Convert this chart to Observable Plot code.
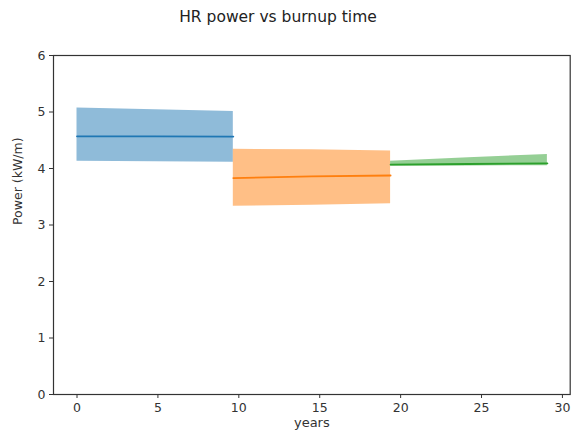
<!DOCTYPE html>
<html>
<head>
<meta charset="utf-8">
<script src="https://cdn.jsdelivr.net/npm/d3@7"></script>
<script src="https://cdn.jsdelivr.net/npm/@observablehq/plot@0.6"></script>
<style>
  body { margin: 0; background: #fff; font-family: "DejaVu Sans", sans-serif; }
  #wrap { position: relative; width: 571px; height: 433px; }
  #title { position: absolute; top: 8px; left: 0; width: 556px; text-align: center; font-size: 15.5px; color: #222; }
</style>
</head>
<body>
<div id="wrap">
  <div id="title">HR power vs burnup time</div>
  <div id="chart"></div>
</div>
<script>
const series = ["cycle1", "cycle2", "cycle3"];
const colors = ["#1f77b4", "#ff7f0e", "#2ca02c"];
const years = [
  [0, 4.83, 9.66],
  [9.66, 14.5, 19.38],
  [19.38, 24.2, 29.07]
];
const meanPower = [
  [4.57, 4.57, 4.565],
  [3.83, 3.86, 3.876],
  [4.07, 4.08, 4.09]
];
const lowPower = [
  [4.13, 4.12, 4.11],
  [3.33, 3.35, 3.375],
  [4.04, 4.045, 4.05]
];
const highPower = [
  [5.07, 5.04, 5.01],
  [4.34, 4.33, 4.31],
  [4.13, 4.19, 4.25]
];
const xTicks = [0, 5, 10, 15, 20, 25, 30];
const yTicks = [0, 1, 2, 3, 4, 5, 6];

const rows = [];
series.forEach((s, i) => {
  years[i].forEach((x, j) => {
    rows.push({series: s, x, mean: meanPower[i][j], lo: lowPower[i][j], hi: highPower[i][j]});
  });
});

const fmt = d3.format("d");
const chart = Plot.plot({
  width: 571,
  height: 433,
  marginLeft: 53,
  marginRight: 1.3,
  marginTop: 55,
  marginBottom: 39,
  style: {fontFamily: "DejaVu Sans, sans-serif", fontSize: "12.5px", color: "#333", background: "#fff"},
  x: {domain: [-1.453, 30.48], label: null},
  y: {domain: [0, 6], label: null},
  color: {domain: series, range: colors},
  marks: [
    Plot.areaY(rows, {x: "x", y1: "lo", y2: "hi", fill: "series", fillOpacity: 0.5, z: "series"}),
    Plot.line(rows, {x: "x", y: "mean", stroke: "series", strokeWidth: 1.8, z: "series"}),
    Plot.frame({stroke: "#333", strokeWidth: 1.2}),
    Plot.axisX({ticks: xTicks, tickFormat: fmt, tickSize: 4, tickPadding: 5, label: null, fontSize: 12.5, stroke: "#333"}),
    Plot.axisY({ticks: yTicks, tickFormat: fmt, tickSize: 4, tickPadding: 4, label: null, fontSize: 12.5, stroke: "#333"}),
    Plot.text(["years"], {frameAnchor: "bottom", dy: 32, fontSize: 13, fill: "#333"}),
    Plot.text(["Power (kW/m)"], {frameAnchor: "left", dx: -36, rotate: -90, fontSize: 12.5, fill: "#333"})
  ]
});
document.getElementById("chart").appendChild(chart);
</script>
</body>
</html>
